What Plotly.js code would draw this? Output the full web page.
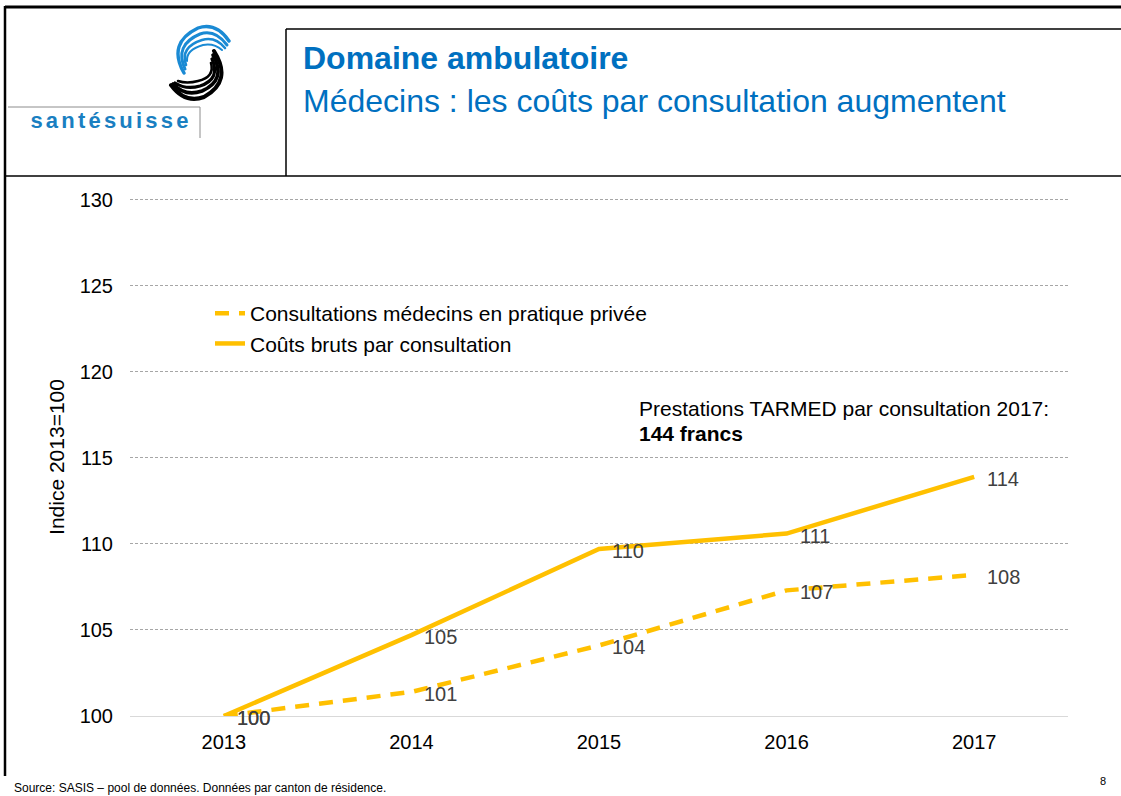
<!DOCTYPE html>
<html>
<head>
<meta charset="utf-8">
<script src="https://cdn.plot.ly/plotly-3.0.1.min.js"></script>
<style>
  html, body { margin: 0; padding: 0; background: #fff; }
  #chart { width: 1121px; height: 796px; }
  .logo-word text { letter-spacing: 3.2px; }
</style>
</head>
<body>
<div id="chart"></div>
<script>
// --- data ---
const years = ['2013', '2014', '2015', '2016', '2017'];
const consultations = [100, 101.4, 104.1, 107.3, 108.2];   // dashed
const coutsBruts = [100, 104.7, 109.7, 110.6, 113.9];       // solid
const seriesNames = ['Consultations médecins en pratique privée', 'Coûts bruts par consultation'];
const yTicks = [100, 105, 110, 115, 120, 125, 130];

const FONT = 'Liberation Sans, Arial, sans-serif';
const GOLD = '#FFC000';
const BLUE = '#0070C0';

// plot area in pixels: x 130..1068, y 198..716 (range runs a hair past 130 so its gridline shows)
const PL = 130, PR = 1068, PT = 198, PB = 716;
const px = x => (x - PL) / (PR - PL);
const py = y => (PB - y) / (PB - PT);

const traces = [
    {
        x: years, y: consultations, name: seriesNames[0],
        type: 'scatter', mode: 'lines',
        line: { color: GOLD, width: 4.5, dash: '14px,10px' },
        hoverinfo: 'skip'
    },
    {
        x: years, y: coutsBruts, name: seriesNames[1],
        type: 'scatter', mode: 'lines',
        line: { color: GOLD, width: 4.5 },
        hoverinfo: 'skip'
    }
];

// value labels, right of each point (x given as category index)
const labelAnns = [];
[consultations, coutsBruts].forEach(vals => {
    vals.forEach((v, i) => {
        labelAnns.push({
            x: i, y: v, xref: 'x', yref: 'y',
            text: String(Math.round(v)), showarrow: false,
            xanchor: 'left', yanchor: 'middle', xshift: 11, yshift: -2,
            font: { family: FONT, size: 20, color: '#404040' }
        });
    });
});

const textAnns = [
    { x: px(301), y: py(58), text: '<b>Domaine ambulatoire</b>', xanchor: 'left', yanchor: 'middle',
      font: { family: FONT, size: 32, color: BLUE } },
    { x: px(301), y: py(101), text: 'Médecins : les coûts par consultation augmentent', xanchor: 'left', yanchor: 'middle',
      font: { family: FONT, size: 32, color: BLUE } },
    { x: px(46), y: py(120), text: '<b>santésuisse</b>', xanchor: 'left', yanchor: 'middle',
      font: { family: FONT, size: 22, color: '#1a7fc1' } },
    { x: px(637), y: py(408), text: 'Prestations TARMED par consultation 2017:',
      xanchor: 'left', yanchor: 'middle', font: { family: FONT, size: 21, color: '#000' } },
    { x: px(637), y: py(433), text: '<b>144 francs</b>',
      xanchor: 'left', yanchor: 'middle', font: { family: FONT, size: 21, color: '#000' } },
    { x: px(12), y: py(788), text: 'Source: SASIS – pool de données. Données par canton de résidence.',
      xanchor: 'left', yanchor: 'middle', font: { family: FONT, size: 12, color: '#000' } },
    { x: px(1103), y: py(781), text: '8', xanchor: 'center', yanchor: 'middle',
      font: { family: FONT, size: 11, color: '#000' } }
].map(a => ({ xref: 'paper', yref: 'paper', showarrow: false, ...a }));

function seg(x0, y0, x1, y1, color, width) {
    return { type: 'line', xref: 'paper', yref: 'paper', x0: px(x0), y0: py(y0), x1: px(x1), y1: py(y1),
             line: { color: color, width: width } };
}

const shapes = [
    seg(5, 7, 1121, 7, '#000', 3),
    seg(5, 6, 5, 776, '#000', 2.5),
    seg(286, 29, 1121, 29, '#000', 1.5),
    seg(286, 29, 286, 176, '#000', 1.5),
    seg(5, 176, 1121, 176, '#000', 1.5),
    seg(8, 107, 200, 107, '#8c8c8c', 1),
    seg(200, 107, 200, 138, '#8c8c8c', 1)
];

// swirl mark of the logo: blue fan upper left, black fan lower right
const logoSvg =
    '<svg xmlns="http://www.w3.org/2000/svg" viewBox="0 0 70 82" width="70" height="82">' +
    '<g fill="none" stroke-linecap="round">' +
    '<path d="M19,51 Q2,21 33,6 Q51,0 64,19" stroke="#1a8ad4" stroke-width="3.4"/>' +
    '<path d="M20,47 Q9,23 35,12 Q50,7 62,23" stroke="#1a8ad4" stroke-width="3"/>' +
    '<path d="M21,43 Q15,25 37,18 Q50,14 60,26" stroke="#1a8ad4" stroke-width="2.6"/>' +
    '<path d="M22,39 Q21,28 38,23 Q49,21 57,28" stroke="#1a8ad4" stroke-width="2"/>' +
    '<path d="M49,29 Q68,59 39,75 Q20,82 6,63" stroke="#000" stroke-width="4"/>' +
    '<path d="M48,33 Q62,58 37,69 Q20,75 8,62" stroke="#000" stroke-width="3.6"/>' +
    '<path d="M47,37 Q56,57 35,64 Q21,68 10,61" stroke="#000" stroke-width="3.2"/>' +
    '<path d="M46,41 Q50,55 33,59 Q22,62 13,59" stroke="#000" stroke-width="2.6"/>' +
    '</g></svg>';

const layout = {
    width: 1121, height: 796,
    paper_bgcolor: '#fff', plot_bgcolor: '#fff',
    margin: { l: PL, r: 1121 - PR, t: PT, b: 796 - PB },
    font: { family: FONT, size: 20, color: '#000' },
    showlegend: true,
    legend: {
        x: px(210), y: py(293), xanchor: 'left', yanchor: 'top',
        bgcolor: 'rgba(0,0,0,0)', font: { family: FONT, size: 21, color: '#000' },
        tracegroupgap: 0
    },
    xaxis: {
        type: 'category', range: [-0.5, 4.5], fixedrange: true,
        showgrid: false, zeroline: false, showline: true, linecolor: '#d9d9d9', linewidth: 1.3,
        ticks: '', ticklabelstandoff: 8, tickfont: { size: 20, color: '#000' }
    },
    yaxis: {
        range: [100, 130.1], tickvals: yTicks, fixedrange: true,
        showgrid: true, gridcolor: '#a6a6a6', gridwidth: 1, griddash: '3px,2px',
        zeroline: false, showline: false, ticks: '', ticklabelstandoff: 16,
        tickfont: { size: 20, color: '#000' },
        title: { text: 'Indice 2013=100', standoff: 9, font: { size: 21, color: '#000' } }
    },
    shapes: shapes,
    annotations: textAnns.concat(labelAnns),
    images: [{
        source: 'data:image/svg+xml;utf8,' + encodeURIComponent(logoSvg),
        xref: 'paper', yref: 'paper', x: px(165), y: py(22),
        sizex: 70 / (PR - PL), sizey: 82 / (PB - PT),
        xanchor: 'left', yanchor: 'top', sizing: 'stretch', layer: 'above'
    }],
    hovermode: false
};

Plotly.newPlot('chart', traces, layout, { displayModeBar: false, staticPlot: true }).then(gd => {
    // letter-spaced logo word
    const g = gd.querySelector('.annotation[data-index="2"]');
    if (g) g.classList.add('logo-word');
});
</script>
</body>
</html>
